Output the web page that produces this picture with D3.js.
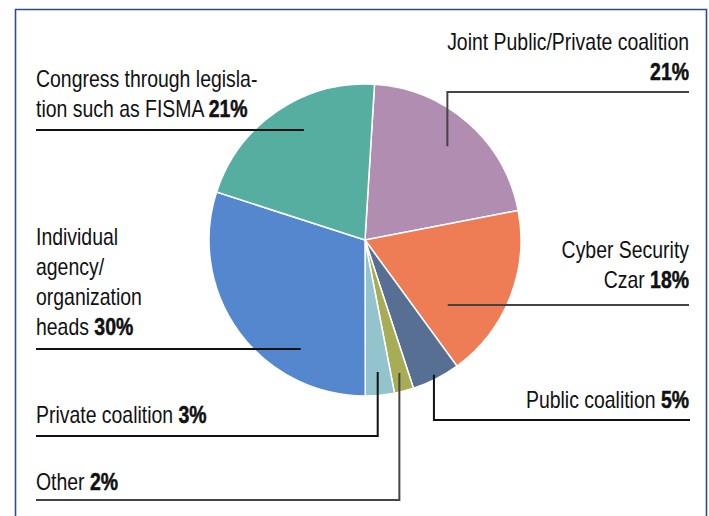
<!DOCTYPE html>
<html>
<head>
<meta charset="utf-8">
<script src="https://cdn.jsdelivr.net/npm/d3@7"></script>
<style>
  body { margin: 0; background: #fff; }
  text { font-family: "Liberation Sans", Arial, sans-serif; font-size: 23px; fill: #111; }
  .pct { font-weight: bold; stroke: #111; stroke-width: 0.5px; }
</style>
</head>
<body>
<div id="chart"></div>
<script>
// Datos del gráfico (orden horario desde arriba)
const categories = ["Joint Public/Private coalition", "Cyber Security Czar", "Public coalition",
  "Other", "Private coalition", "Individual agency/organization heads", "Congress through legislation such as FISMA"];
const values = [21, 18, 5, 2, 3, 30, 21];
const colors = ["#b18db2", "#ee7c54", "#566f93", "#a7ad55", "#93c3cd", "#5587cf", "#55ae9f"];

// Líneas de texto de cada etiqueta
const labelLines = [
  ["Joint Public/Private coalition", ""],
  ["Cyber Security", "Czar "],
  ["Public coalition "],
  ["Other "],
  ["Private coalition "],
  ["Individual", "agency/", "organization", "heads "],
  ["Congress through legisla-", "tion such as FISMA "]
];

const width = 709, height = 516;
const cx = 365, cy = 240, radius = 156;
const startAngle = 3.5 * Math.PI / 180;

const svg = d3.select("#chart")
  .append("svg")
  .attr("width", width)
  .attr("height", height);

// Marco azul
svg.append("path")
  .attr("d", "M15.5,520 V9.5 H706.5 V520")
  .attr("fill", "none")
  .attr("stroke", "#2f4b90")
  .attr("stroke-width", 1.6);

const pie = d3.pie().sort(null)
  .startAngle(startAngle)
  .endAngle(startAngle + 2 * Math.PI);
const arcs = pie(values);
const arc = d3.arc().innerRadius(0).outerRadius(radius);

const g = svg.append("g").attr("transform", `translate(${cx},${cy})`);

g.selectAll("path.slice")
  .data(arcs)
  .enter()
  .append("path")
  .attr("class", "slice")
  .attr("d", arc)
  .attr("fill", (d, i) => colors[i])
  .attr("stroke", "#fff")
  .attr("stroke-width", 1.5);

// Fuente condensada: medir y comprimir horizontalmente
const probe = svg.append("text").text("Joint Public/Private coalition");
const squeeze = 242 / probe.node().getComputedTextLength();
probe.remove();

// Configuración de etiquetas
const layout = [
  { r: 0.80, elbowY: 92, lineX: 689, side: "right", textX: 689, textY: [50, 80] },
  { r: 0.57, elbowY: null, lineX: 689, side: "right", textX: 689, textY: [258, 288], lineY: 305 },
  { r: 0.97, elbowY: 420, lineX: 690, side: "right", textX: 689, textY: [408] },
  { r: 0.88, elbowY: 500, lineX: 36, side: "left", textX: 36, textY: [490] },
  { r: 0.85, elbowY: 436, lineX: 36, side: "left", textX: 36, textY: [423] },
  { r: 0.51, elbowY: null, lineX: 36, side: "left", textX: 36, textY: [245, 275, 305, 335], lineY: 349 },
  { r: 0.695, elbowY: null, lineX: 36, side: "left", textX: 36, textY: [87, 117], lineY: 130 }
];

arcs.forEach((d, i) => {
  const L = layout[i];
  const mid = (d.startAngle + d.endAngle) / 2;
  const px = cx + Math.sin(mid) * radius * L.r;
  const py = cy - Math.cos(mid) * radius * L.r;
  let pts;
  if (L.elbowY !== null) {
    pts = [[px, py], [px, L.elbowY], [L.lineX, L.elbowY]];
  } else {
    pts = [[px, L.lineY], [L.lineX, L.lineY]];
  }
  svg.append("path")
    .attr("d", d3.line()(pts))
    .attr("fill", "none")
    .attr("stroke", i === 0 || i === 1 || i === 3 ? "#444" : "#111")
    .attr("stroke-width", 2);

  const lines = labelLines[i];
  lines.forEach((ln, j) => {
    const t = svg.append("text")
      .attr("transform", `translate(${L.textX},${L.textY[j]}) scale(${squeeze},1)`)
      .attr("text-anchor", L.side === "right" ? "end" : "start");
    t.append("tspan").text(ln);
    if (j === lines.length - 1) {
      t.append("tspan").attr("class", "pct").text(values[i] + "%");
    }
  });
});
</script>
</body>
</html>
